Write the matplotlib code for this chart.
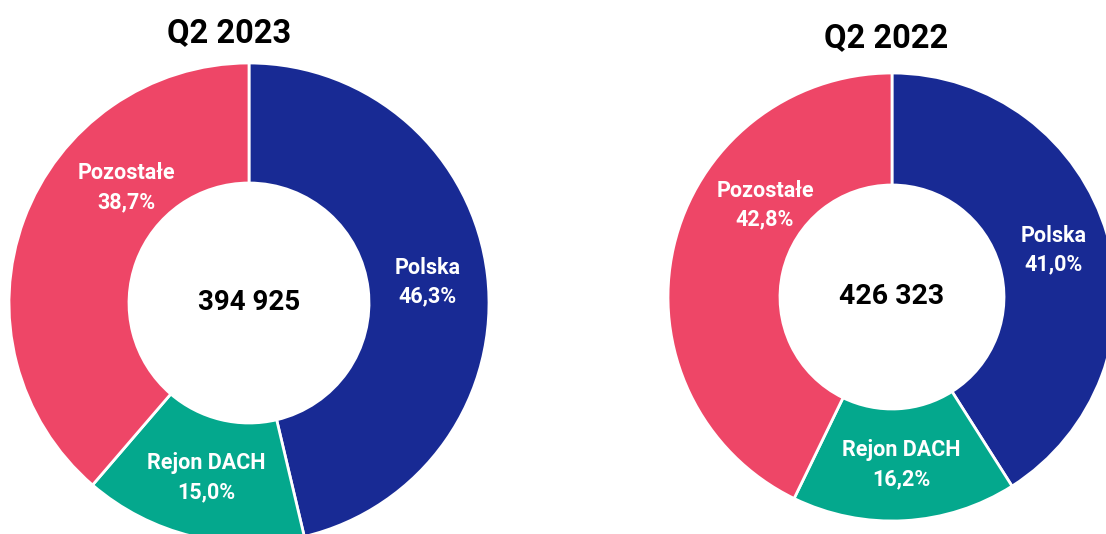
import numpy as np
import matplotlib.pyplot as plt

plt.rcParams['font.family'] = ['Roboto', 'DejaVu Sans']

# data
regions = ['Polska', 'Rejon DACH', 'Pozostałe']
share_q2_2023 = [46.3, 15.0, 38.7]
share_q2_2022 = [41.0, 16.2, 42.8]
total_q2_2023 = 394925
total_q2_2022 = 426323
titles = ['Q2 2023', 'Q2 2022']
colors = ['#182A94', '#04A88D', '#EE4667']


def fmt_pct(v):
    return f'{v:.1f}%'.replace('.', ',')


def fmt_total(v):
    return f'{v:,}'.replace(',', ' ')


def donut(ax, shares, total, center_size):
    wedges, _ = ax.pie(shares, colors=colors, startangle=90, counterclock=False,
                       radius=1, wedgeprops=dict(width=0.5, edgecolor='white', linewidth=2))
    for w in wedges:
        w.set_clip_on(False)
    for i, w in enumerate(wedges):
        ang = (w.theta1 + w.theta2) / 2
        r = 0.75
        if i == 2:
            # 'Pozostałe' label sits higher up in its wedge
            ang -= 23
            r = 0.70
        a = np.deg2rad(ang)
        ax.text(r * np.cos(a), r * np.sin(a), regions[i] + '\n' + fmt_pct(shares[i]),
                ha='center', va='center', color='white', fontsize=15.5,
                fontweight='semibold', linespacing=1.4)
    ax.text(0, 0, fmt_total(total), ha='center', va='center',
            fontsize=center_size, fontweight='bold', color='black')
    ax.set_xlim(-1, 1)
    ax.set_ylim(-1, 1)
    ax.set_aspect('equal')
    ax.axis('off')


W, H = 1106, 534
fig = plt.figure(figsize=(W / 100, H / 100), dpi=100)

ax1 = fig.add_axes([9 / W, -9 / H, 480 / W, 480 / H])
donut(ax1, share_q2_2023, total_q2_2023, 20)

ax2 = fig.add_axes([668 / W, 13 / H, 448 / W, 448 / H])
donut(ax2, share_q2_2022, total_q2_2022, 20.5)

fig.text(229 / W, 1 - 33 / H, titles[0], ha='center', va='center',
         fontsize=23.5, fontweight='bold')
fig.text(886 / W, 1 - 38 / H, titles[1], ha='center', va='center',
         fontsize=23.5, fontweight='bold')

fig.savefig('out.png', dpi=100)
